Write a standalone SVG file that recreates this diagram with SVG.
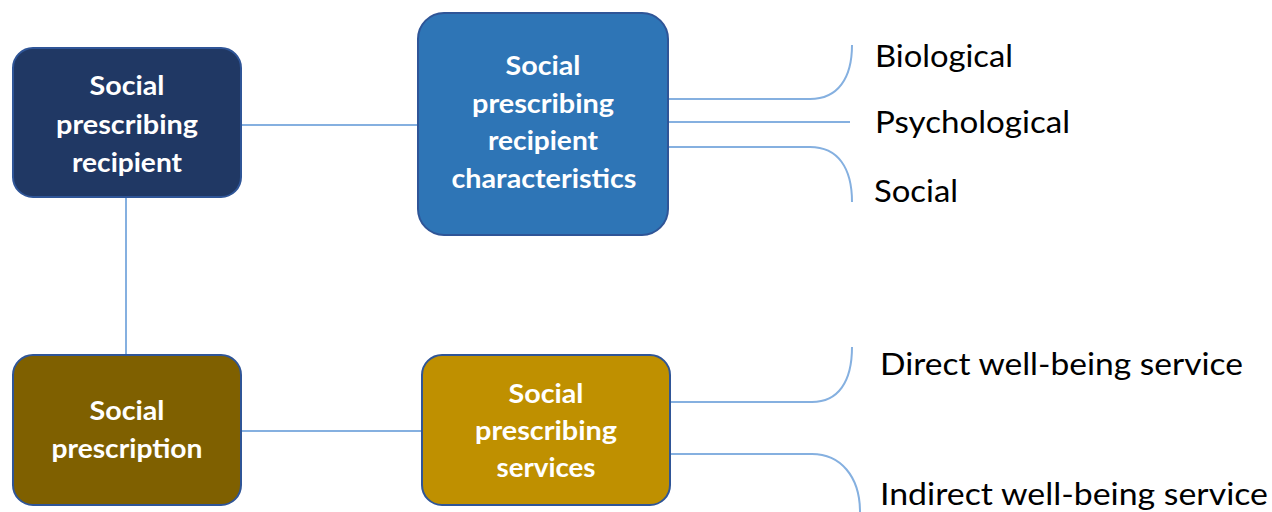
<svg xmlns="http://www.w3.org/2000/svg" width="1272" height="512" viewBox="0 0 1272 512">
  <style>
    .node { stroke: #2F5597; stroke-width: 2; }
    .ntext { font-family: Lato, "Open Sans", "Liberation Sans", sans-serif; font-weight: bold; font-size: 27px; fill: #ffffff; text-anchor: middle; }
    .label { font-family: Lato, "Open Sans", "Liberation Sans", sans-serif; font-size: 30px; fill: #000000; }
    .conn { fill: none; stroke: #85B0E0; stroke-width: 2; }
  </style>
  <rect width="1272" height="512" fill="#ffffff"/>
  <g id="connectors">
    <line class="conn" x1="241" y1="125" x2="418" y2="125"/>
    <line class="conn" x1="126" y1="197" x2="126" y2="355"/>
    <line class="conn" x1="241" y1="431" x2="422" y2="431"/>
    <path class="conn" d="M668,99 H810 C838,99 852,78 852,45"/>
    <path class="conn" d="M668,122 H850"/>
    <path class="conn" d="M668,147 H810 C838,147 852,168 852,202"/>
    <path class="conn" d="M670,402 H812 C838,402 852,382 852,347"/>
    <path class="conn" d="M670,454 H812 C840,454 860,476 860,512"/>
  </g>
  <g id="node-recipient">
    <rect class="node" x="13" y="48" width="228" height="149" rx="20" fill="#203864"/>
    <text class="ntext" x="127" y="95" textLength="75" lengthAdjust="spacingAndGlyphs">Social</text>
    <text class="ntext" x="127" y="134" textLength="142" lengthAdjust="spacingAndGlyphs">prescribing</text>
    <text class="ntext" x="127" y="172" textLength="110" lengthAdjust="spacingAndGlyphs">recipient</text>
  </g>
  <g id="node-characteristics">
    <rect class="node" x="418" y="13" width="250" height="222" rx="26" fill="#2E75B6"/>
    <text class="ntext" x="543" y="75" textLength="75" lengthAdjust="spacingAndGlyphs">Social</text>
    <text class="ntext" x="543" y="113" textLength="142" lengthAdjust="spacingAndGlyphs">prescribing</text>
    <text class="ntext" x="543" y="150" textLength="110" lengthAdjust="spacingAndGlyphs">recipient</text>
    <text class="ntext" x="544" y="188" textLength="185" lengthAdjust="spacingAndGlyphs">characteristics</text>
  </g>
  <g id="node-prescription">
    <rect class="node" x="13" y="355" width="228" height="150" rx="20" fill="#7F6000"/>
    <text class="ntext" x="127" y="420" textLength="75" lengthAdjust="spacingAndGlyphs">Social</text>
    <text class="ntext" x="127" y="458" textLength="151" lengthAdjust="spacingAndGlyphs">prescription</text>
  </g>
  <g id="node-services">
    <rect class="node" x="422" y="355" width="248" height="150" rx="20" fill="#BF9000"/>
    <text class="ntext" x="546" y="403" textLength="75" lengthAdjust="spacingAndGlyphs">Social</text>
    <text class="ntext" x="546" y="440" textLength="142" lengthAdjust="spacingAndGlyphs">prescribing</text>
    <text class="ntext" x="546" y="477" textLength="99" lengthAdjust="spacingAndGlyphs">services</text>
  </g>
  <g id="labels">
    <text class="label" x="875" y="67" textLength="138" lengthAdjust="spacingAndGlyphs">Biological</text>
    <text class="label" x="875" y="133" textLength="195" lengthAdjust="spacingAndGlyphs">Psychological</text>
    <text class="label" x="874" y="202" textLength="84" lengthAdjust="spacingAndGlyphs">Social</text>
    <text class="label" x="880" y="375" textLength="363" lengthAdjust="spacingAndGlyphs">Direct well-being service</text>
    <text class="label" x="880" y="505" textLength="388" lengthAdjust="spacingAndGlyphs">Indirect well-being service</text>
  </g>
</svg>
